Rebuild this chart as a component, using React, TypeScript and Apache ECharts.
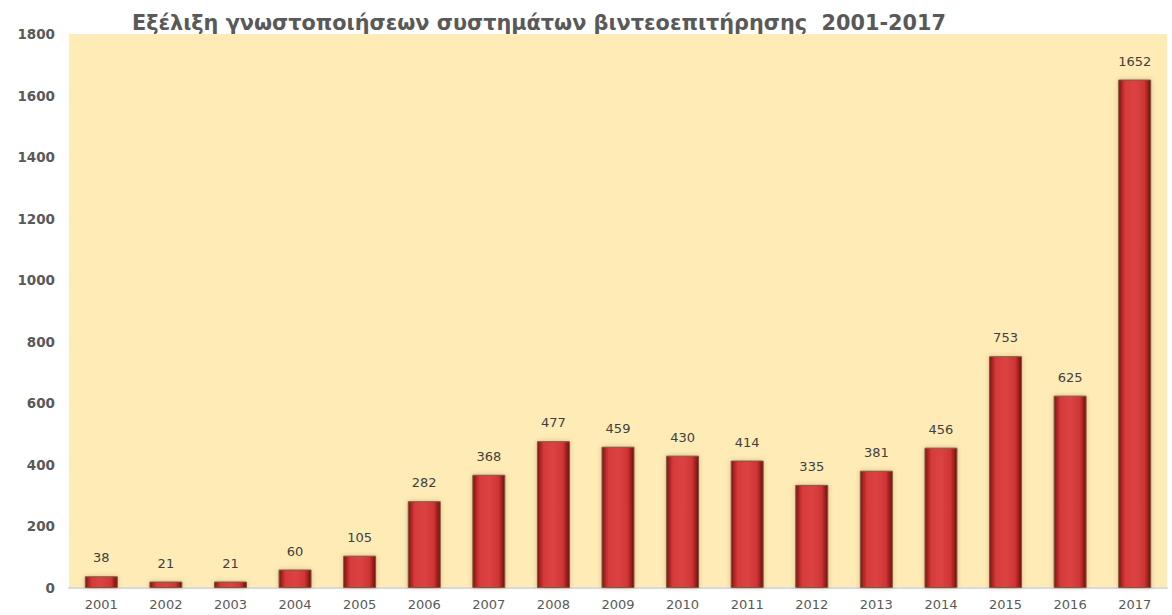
import React, { useEffect, useRef } from "react";
import * as echarts from "echarts";

const years = ["2001","2002","2003","2004","2005","2006","2007","2008","2009","2010","2011","2012","2013","2014","2015","2016","2017"];
const notifications = [38, 21, 21, 60, 105, 282, 368, 477, 459, 430, 414, 335, 381, 456, 753, 625, 1652];
const titleText = "Εξέλιξη γνωστοποιήσεων συστημάτων βιντεοεπιτήρησης  2001-2017";

export default function App() {
  const ref = useRef<HTMLDivElement>(null);
  useEffect(() => {
    if (!ref.current) return;
    const chart = echarts.init(ref.current, undefined, { renderer: "svg" });
    const font = "'DejaVu Sans', Verdana, sans-serif";
    chart.setOption({
      animation: false,
      backgroundColor: "#ffffff",
      title: {
        text: titleText,
        left: 127,
        top: 7,
        textStyle: { fontFamily: font, fontSize: 20.8, fontWeight: "bold", color: "#595959" },
      },
      grid: { left: 69, right: 5, top: 34, bottom: 27, containLabel: false, show: true, backgroundColor: "#feebb6", borderWidth: 0 },
      xAxis: {
        type: "category",
        data: years,
        axisTick: { show: false },
        axisLine: { lineStyle: { color: "#d9d9d9", width: 2 } },
        axisLabel: { fontFamily: font, fontSize: 13, color: "#595959", margin: 10 },
      },
      yAxis: {
        type: "value",
        min: 0,
        max: 1800,
        interval: 200,
        splitLine: { show: false },
        axisLine: { show: false },
        axisTick: { show: false },
        axisLabel: {
          fontFamily: font,
          fontSize: 13.5,
          fontWeight: "bold",
          color: "#595959",
          margin: 14,
          formatter: (v: number) => String(v),
        },
      },
      series: [
        {
          type: "bar",
          data: notifications,
          barWidth: "51%",
          itemStyle: {
            color: new echarts.graphic.LinearGradient(0, 0, 1, 0, [
              { offset: 0, color: "#7a1616" },
              { offset: 0.1, color: "#b02626" },
              { offset: 0.2, color: "#d63a3a" },
              { offset: 0.5, color: "#dc4343" },
              { offset: 0.8, color: "#cf3535" },
              { offset: 0.9, color: "#a42020" },
              { offset: 1, color: "#6a1212" },
            ]),
            borderColor: "#7d5a3c",
            borderWidth: 1,
            shadowColor: "rgba(120,80,40,0.35)",
            shadowBlur: 4,
          },
          label: {
            show: true,
            position: "top",
            distance: 12,
            fontFamily: font,
            fontSize: 13,
            color: "#404040",
          },
        },
      ],
    });
    return () => chart.dispose();
  }, []);
  return <div ref={ref} style={{ position: "fixed", left: 0, top: 0, width: 1172, height: 615 }} />;
}
